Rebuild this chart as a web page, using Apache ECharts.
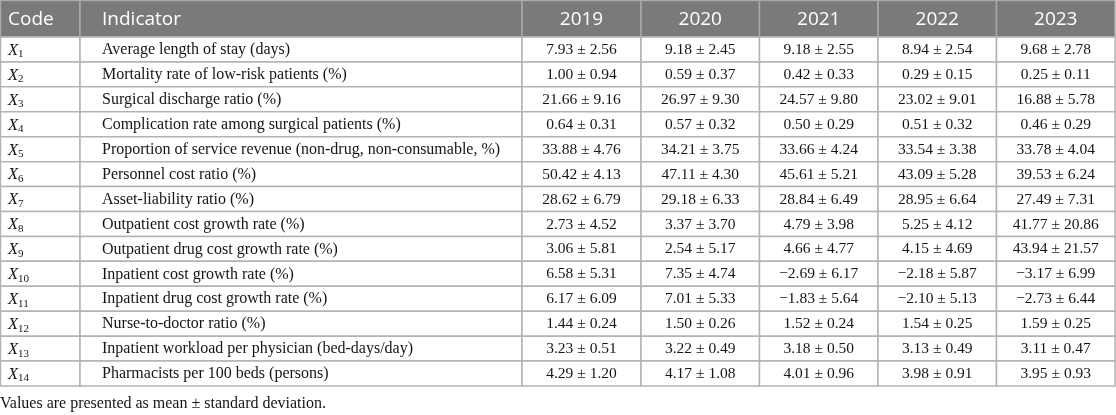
<!DOCTYPE html>
<html>
<head>
<meta charset="utf-8">
<script src="https://cdn.jsdelivr.net/npm/echarts@6/dist/echarts.min.js"></script>
<style>
html,body{margin:0;padding:0;background:#fff;}
#chart{width:1116px;height:415px;}
</style>
</head>
<body>
<div id="chart"></div>
<script>
// ---- data ----
var headers = ['Code', 'Indicator', '2019', '2020', '2021', '2022', '2023'];
var codeSubs = ['1','2','3','4','5','6','7','8','9','10','11','12','13','14'];
var indicators = [
  'Average length of stay (days)',
  'Mortality rate of low-risk patients (%)',
  'Surgical discharge ratio (%)',
  'Complication rate among surgical patients (%)',
  'Proportion of service revenue (non-drug, non-consumable, %)',
  'Personnel cost ratio (%)',
  'Asset-liability ratio (%)',
  'Outpatient cost growth rate (%)',
  'Outpatient drug cost growth rate (%)',
  'Inpatient cost growth rate (%)',
  'Inpatient drug cost growth rate (%)',
  'Nurse-to-doctor ratio (%)',
  'Inpatient workload per physician (bed-days/day)',
  'Pharmacists per 100 beds (persons)'
];
var mean2019 = [7.93, 1.00, 21.66, 0.64, 33.88, 50.42, 28.62, 2.73, 3.06, 6.58, 6.17, 1.44, 3.23, 4.29];
var sd2019   = [2.56, 0.94, 9.16, 0.31, 4.76, 4.13, 6.79, 4.52, 5.81, 5.31, 6.09, 0.24, 0.51, 1.20];
var mean2020 = [9.18, 0.59, 26.97, 0.57, 34.21, 47.11, 29.18, 3.37, 2.54, 7.35, 7.01, 1.50, 3.22, 4.17];
var sd2020   = [2.45, 0.37, 9.30, 0.32, 3.75, 4.30, 6.33, 3.70, 5.17, 4.74, 5.33, 0.26, 0.49, 1.08];
var mean2021 = [9.18, 0.42, 24.57, 0.50, 33.66, 45.61, 28.84, 4.79, 4.66, -2.69, -1.83, 1.52, 3.18, 4.01];
var sd2021   = [2.55, 0.33, 9.80, 0.29, 4.24, 5.21, 6.49, 3.98, 4.77, 6.17, 5.64, 0.24, 0.50, 0.96];
var mean2022 = [8.94, 0.29, 23.02, 0.51, 33.54, 43.09, 28.95, 5.25, 4.15, -2.18, -2.10, 1.54, 3.13, 3.98];
var sd2022   = [2.54, 0.15, 9.01, 0.32, 3.38, 5.28, 6.64, 4.12, 4.69, 5.87, 5.13, 0.25, 0.49, 0.91];
var mean2023 = [9.68, 0.25, 16.88, 0.46, 33.78, 39.53, 27.49, 41.77, 43.94, -3.17, -2.73, 1.59, 3.11, 3.95];
var sd2023   = [2.78, 0.11, 5.78, 0.29, 4.04, 6.24, 7.31, 20.86, 21.57, 6.99, 6.44, 0.25, 0.47, 0.93];
var footnote = 'Values are presented as mean \u00b1 standard deviation.';

// ---- layout (not data) ----
var colEdges = [0.5, 80, 522, 641, 759.5, 878, 996.5, 1115];
var headerBottom = 37;
var rowH = 24.93;
var rowEdges = [0.5, headerBottom];
for (var k = 1; k <= codeSubs.length; k++) rowEdges.push(headerBottom + rowH * k);

var means = [mean2019, mean2020, mean2021, mean2022, mean2023];
var sds = [sd2019, sd2020, sd2021, sd2022, sd2023];
function fmt(v) {
  var s = Math.abs(v).toFixed(2);
  return (v < 0 ? '\u2212' : '') + s;
}

var cells = [];
for (var r = 0; r <= codeSubs.length; r++) {
  for (var c = 0; c < headers.length; c++) cells.push([c, r]);
}

var SERIF = '"Liberation Serif", "Times New Roman", serif';
var SANS = '"Open Sans", "Noto Sans", sans-serif';
var INK = '#151515';

function renderItem(params, api) {
  var c = api.value(0), r = api.value(1);
  var p0 = api.coord([colEdges[c], rowEdges[r]]);
  var p1 = api.coord([colEdges[c + 1], rowEdges[r + 1]]);
  var x = p0[0], y = p0[1], w = p1[0] - p0[0], h = p1[1] - p0[1];
  var children = [];
  var isHead = r === 0;
  children.push({
    type: 'rect',
    shape: {x: x, y: y, width: w, height: h},
    style: {fill: isHead ? '#7a7a7a' : '#ffffff', stroke: isHead ? '#a9a9a9' : '#b3b3b3', lineWidth: 1.5}
  });
  var cy = y + h / 2;
  if (isHead) {
    var left = c < 2;
    children.push({
      type: 'text',
      style: {
        text: headers[c],
        x: left ? x + (c === 0 ? 7.5 : 22) : x + w / 2,
        y: cy + 0.5,
        align: left ? 'left' : 'center',
        verticalAlign: 'middle',
        fill: '#ffffff',
        font: '19px ' + SANS
      }
    });
  } else {
    var i = r - 1;
    if (c === 0) {
      children.push({
        type: 'text',
        style: {
          text: '{i|X}{s|' + codeSubs[i] + '}',
          x: x + 7.5,
          y: cy + 1,
          align: 'left',
          verticalAlign: 'middle',
          rich: {
            i: {font: 'italic 16.5px ' + SERIF, fill: INK, lineHeight: 20},
            s: {font: '11px ' + SERIF, fill: INK, lineHeight: 20, padding: [8, 0, 0, 0]}
          }
        }
      });
    } else if (c === 1) {
      children.push({
        type: 'text',
        style: {
          text: indicators[i],
          x: x + 22, y: cy + 0.5,
          align: 'left', verticalAlign: 'middle',
          fill: INK, font: '16px ' + SERIF
        }
      });
    } else {
      var yi = c - 2;
      children.push({
        type: 'text',
        style: {
          text: fmt(means[yi][i]) + ' \u00b1 ' + sds[yi][i].toFixed(2),
          x: x + w / 2, y: cy + 0.5,
          align: 'center', verticalAlign: 'middle',
          fill: INK, font: '15.5px ' + SERIF
        }
      });
    }
  }
  return {type: 'group', children: children};
}

var chart = echarts.init(document.getElementById('chart'), null, {renderer: 'canvas'});
chart.setOption({
  animation: false,
  backgroundColor: '#ffffff',
  grid: {left: 0, right: 0, top: 0, bottom: 0},
  xAxis: {type: 'value', min: 0, max: 1116, show: false},
  yAxis: {type: 'value', min: 0, max: 415, inverse: true, show: false},
  graphic: [{
    type: 'text', x: 0, y: 404,
    style: {text: footnote, fill: INK, font: '16px ' + SERIF, verticalAlign: 'middle'}
  }],
  series: [{
    type: 'custom',
    renderItem: renderItem,
    data: cells,
    silent: true,
    clip: false
  }]
});
</script>
</body>
</html>
